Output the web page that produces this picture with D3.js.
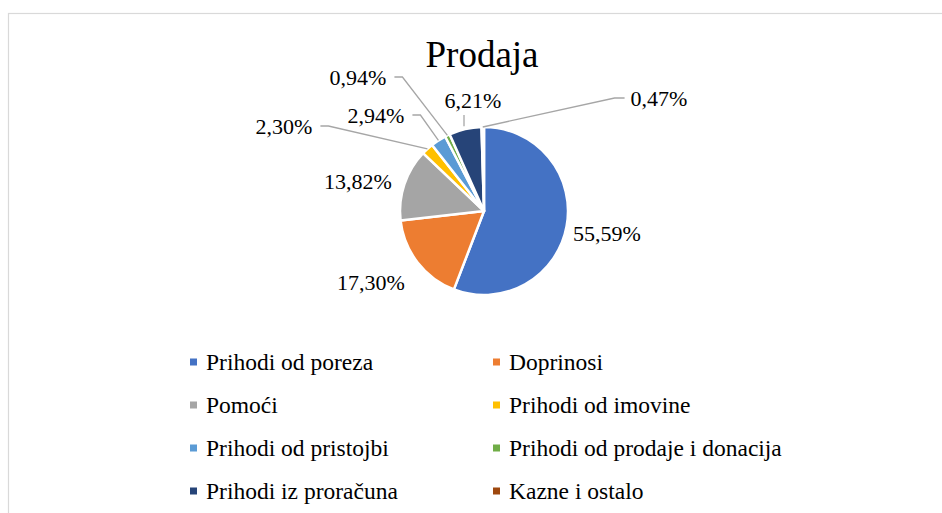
<!DOCTYPE html>
<html>
<head>
<meta charset="utf-8">
<script src="https://cdn.jsdelivr.net/npm/d3@7"></script>
<style>
  body { margin: 0; background: #fff; }
  text { font-family: "Liberation Serif", "Times New Roman", serif; fill: #000; }
</style>
</head>
<body>
<svg id="chart" width="942" height="513"></svg>
<script>
// data
var categories = ['Prihodi od poreza', 'Doprinosi', 'Pomoći', 'Prihodi od imovine',
    'Prihodi od pristojbi', 'Prihodi od prodaje i donacija', 'Prihodi iz proračuna', 'Kazne i ostalo'];
var shares = [55.59, 17.30, 13.82, 2.30, 2.94, 0.94, 6.21, 0.47];
var colors = ['#4472C4', '#ED7D31', '#A5A5A5', '#FFC000', '#5B9BD5', '#70AD47', '#264478', '#9E480E'];
var title = 'Prodaja';

// label layout (offset from pie centre, leader type)
var labelLayout = [
    { dx: 123, dy: 22, line: null },
    { dx: -113, dy: 71, line: null },
    { dx: -126, dy: -30, line: null },
    { dx: -200, dy: -85, line: 'left' },
    { dx: -108, dy: -96, line: 'left' },
    { dx: -126, dy: -134, line: 'left' },
    { dx: -11, dy: -111, line: 'down' },
    { dx: 175, dy: -113, line: 'right' }
];

var svg = d3.select('#chart');
var cx = 484, cy = 211, radius = 84;

// chart frame
svg.append('rect')
    .attr('x', 8.5).attr('y', 13.5)
    .attr('width', 940).attr('height', 540)
    .attr('fill', '#fff')
    .attr('stroke', '#d9d9d9')
    .attr('stroke-width', 1.2);

svg.append('text')
    .attr('x', cx - 2).attr('y', 67)
    .attr('text-anchor', 'middle')
    .style('font-size', '37px')
    .text(title);

var pie = d3.pie().sort(null).value(function(d) { return d; });
var arcs = pie(shares);
var arc = d3.arc().innerRadius(0).outerRadius(radius);

var g = svg.append('g').attr('transform', 'translate(' + cx + ',' + cy + ')');

g.selectAll('path.slice')
    .data(arcs)
    .enter()
    .append('path')
    .attr('class', 'slice')
    .attr('d', arc)
    .attr('fill', function(d, i) { return colors[i]; })
    .attr('stroke', '#fff')
    .attr('stroke-width', 2.5)
    .attr('stroke-linejoin', 'round');

function fmt(v) {
    return v.toFixed(2).replace('.', ',') + '%';
}

// labels
var labels = g.selectAll('text.lbl')
    .data(arcs)
    .enter()
    .append('text')
    .attr('class', 'lbl')
    .attr('x', function(d, i) { return labelLayout[i].dx; })
    .attr('y', function(d, i) { return labelLayout[i].dy; })
    .attr('text-anchor', 'middle')
    .attr('dy', '0.35em')
    .style('font-size', '22px')
    .text(function(d) { return fmt(d.value); });

// leader lines
labels.each(function(d, i) {
    var lay = labelLayout[i];
    if (!lay.line) return;
    var bb = this.getBBox();
    var mid = (d.startAngle + d.endAngle) / 2;
    var px = Math.sin(mid) * radius, py = -Math.cos(mid) * radius;
    var pts;
    if (lay.line === 'left') {
        var sx = bb.x + bb.width + 8;
        pts = [[sx, lay.dy], [sx + 8, lay.dy], [px, py]];
    } else if (lay.line === 'right') {
        var sx2 = bb.x - 6;
        pts = [[sx2, lay.dy], [sx2 - 10, lay.dy], [px, py]];
    } else {
        pts = [[lay.dx - 9, lay.dy + 15], [lay.dx - 9, py - 3]];
    }
    g.append('path')
        .attr('d', d3.line()(pts))
        .attr('fill', 'none')
        .attr('stroke', '#a6a6a6')
        .attr('stroke-width', 1.3);
});

// legend
var legendX = [190, 493], legendY0 = 362, legendStep = 43;
var legend = svg.selectAll('g.leg')
    .data(categories)
    .enter()
    .append('g')
    .attr('class', 'leg')
    .attr('transform', function(d, i) {
        return 'translate(' + legendX[i % 2] + ',' + (legendY0 + Math.floor(i / 2) * legendStep) + ')';
    });

legend.append('rect')
    .attr('x', 0).attr('y', -3.5)
    .attr('width', 7).attr('height', 7)
    .attr('fill', function(d, i) { return colors[i]; });

legend.append('text')
    .attr('x', 16)
    .attr('dy', '0.35em')
    .style('font-size', '23.5px')
    .text(function(d) { return d; });
</script>
</body>
</html>
